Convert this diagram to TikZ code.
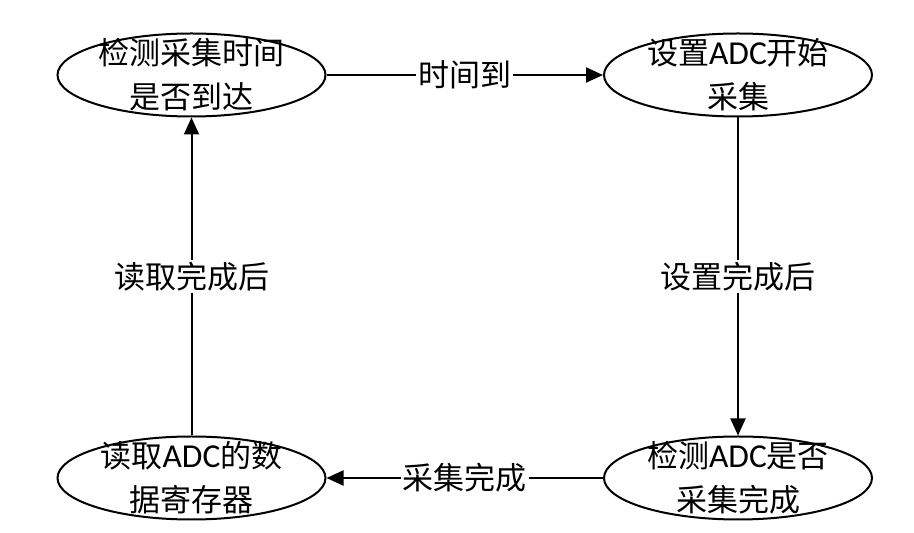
\documentclass[tikz,border=0pt]{standalone}
\usepackage{fontspec}
\setmainfont{Noto Sans CJK SC}
\newfontfamily\lat{Carlito}[Scale=1.08]
\usetikzlibrary{shapes.geometric,arrows.meta}
\newcommand{\ADC}{{\lat ADC}}
\begin{document}
\begin{tikzpicture}[x=1pt,y=1pt,
  state/.style={draw,line width=2pt,ellipse,minimum width=268pt,minimum height=83pt,inner sep=0pt},
  txt/.style={align=center,font=\fontsize{31}{44}\selectfont,inner sep=0pt},
  arr/.style={line width=2pt,-{Triangle[length=17pt,width=15pt]}},
  lab/.style={fill=white,inner sep=2pt,font=\fontsize{31}{36}\selectfont}]
\useasboundingbox (0,0) rectangle (914,533);
\node[state,label={[txt]center:检测采集时间\\是否到达}] (a) at (191.5,458) {};
\node[state,label={[txt]center:设置\ADC{}开始\\采集}] (b) at (738,458) {};
\node[state,label={[txt]center:检测\ADC{}是否\\采集完成}] (c) at (738,55) {};
\node[state,label={[txt]center:读取\ADC{}的数\\据寄存器}] (d) at (191.5,55) {};
\draw[arr] (a) -- node[lab]{时间到} (b);
\draw[arr] (b) -- node[lab]{设置完成后} (c);
\draw[arr] (c) -- node[lab]{采集完成} (d);
\draw[arr] (d) -- node[lab]{读取完成后} (a);
\end{tikzpicture}
\end{document}
